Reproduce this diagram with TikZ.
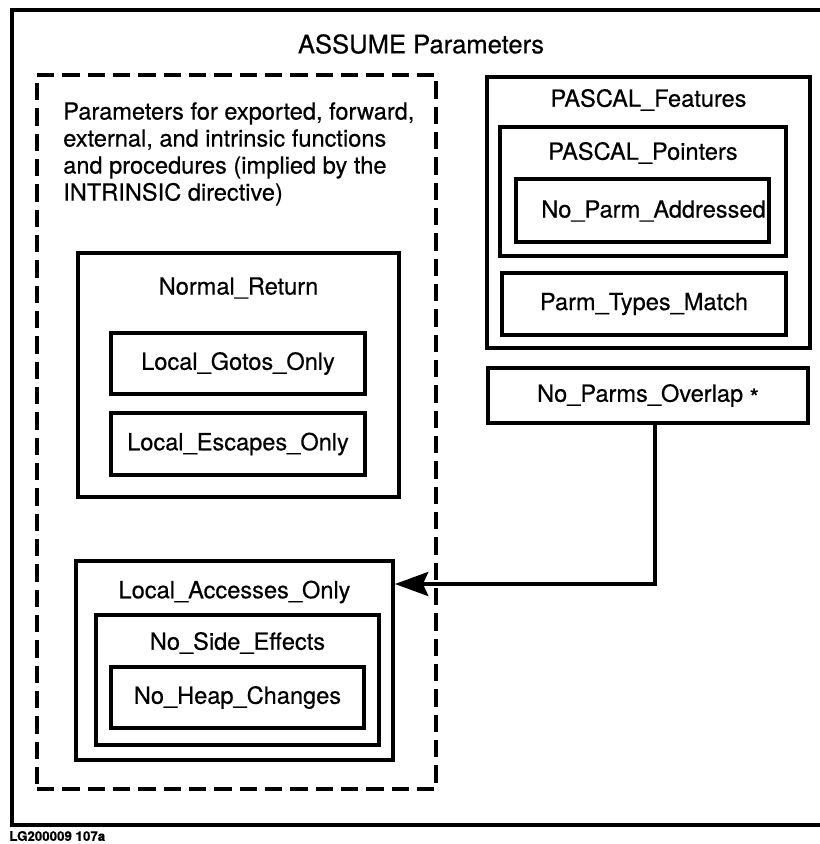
\documentclass[tikz,border=0pt]{standalone}
\usepackage{fontspec}
\setmainfont[FakeBold=0.4]{TeX Gyre Heros}
\usetikzlibrary{arrows.meta,positioning}

\begin{document}
\begin{tikzpicture}[x=0.75pt, y=-0.75pt,
  box/.style 2 args={draw, line width=2.9pt, inner sep=0pt,
    minimum width=#1*0.75pt, minimum height=#2*0.75pt,
    font=\fontsize{17.7}{20.25}\selectfont},
  dashbox/.style={line width=2.7pt, dash pattern=on 13pt off 6pt},
  lbl/.style={font=\fontsize{17.7}{20.25}\selectfont, inner sep=0pt},
  frame/.style={line width=2.9pt},
  conn/.style={line width=2.9pt, -{Stealth[length=25pt, width=18pt, inset=4pt]}}]
\useasboundingbox (0,0) rectangle (820,844);
% outer frame (right side runs off the page)
\draw[frame] (830,10) -- (12,10) -- (12,825) -- (830,825);
\node[font=\fontsize{19.2}{22}\selectfont, inner sep=0pt] (title) at (421,44) {ASSUME Parameters};
\node[font=\fontsize{10}{11}\selectfont\bfseries, anchor=west, inner sep=0pt] (figid) at (9,836) {LG200009 107a};

% left: intrinsic parameters
\node[box={399}{714}, dashbox] (intr) at (236.5,432) {};
\node[lbl, anchor=north west, align=left] (intrtext) at (63,102)
  {Parameters for exported, forward,\\ external, and intrinsic functions\\ and procedures (implied by the\\ INTRINSIC directive)};

\node[box={321}{244}] (normret) at (238.5,375) {};
\node[lbl] (normrettitle) at (238.5,288) {Normal\_Return};
\node[box={254}{61}] (gotos) at (238,363.5) {Local\_Gotos\_Only};
\node[box={254}{62}] (escapes) at (238,444) {Local\_Escapes\_Only};

\node[box={317}{199}] (localacc) at (234.5,660.5) {};
\node[lbl] (localacctitle) at (234.5,592) {Local\_Accesses\_Only};
\node[box={283}{130}] (nosidefx) at (237.5,680) {};
\node[lbl] (nosidefxtitle) at (237.5,643) {No\_Side\_Effects};
\node[box={253}{61}] (noheap) at (237.5,697.5) {No\_Heap\_Changes};

% right: PASCAL features
\node[box={323}{271}] (pasfeat) at (648.5,212.5) {};
\node[lbl] (pasfeattitle) at (648.5,100) {PASCAL\_Features};
\node[box={286}{129}] (pasptr) at (643,191.5) {};
\node[lbl] (pasptrtitle) at (643,153) {PASCAL\_Pointers};
\node[box={253}{63}] (noaddr) at (642.5,210.5) {};
\begin{scope}
  \clip (noaddr.south west) rectangle (noaddr.north east);
  \node[lbl, anchor=west] (noaddrtext) at (541,211) {No\_Parm\_Addressed};
\end{scope}
\node[box={284}{62}] (parmtypes) at (644,304) {Parm\_Types\_Match};

\node[box={320}{55}] (noparms) at (648,395.5) {No\_Parms\_Overlap \raisebox{-3pt}{*}};

% connector
\coordinate (bend) at (655,584);
\draw[conn] (noparms.south -| bend) -- (bend) -- (bend -| localacc.east);
\end{tikzpicture}
\end{document}
